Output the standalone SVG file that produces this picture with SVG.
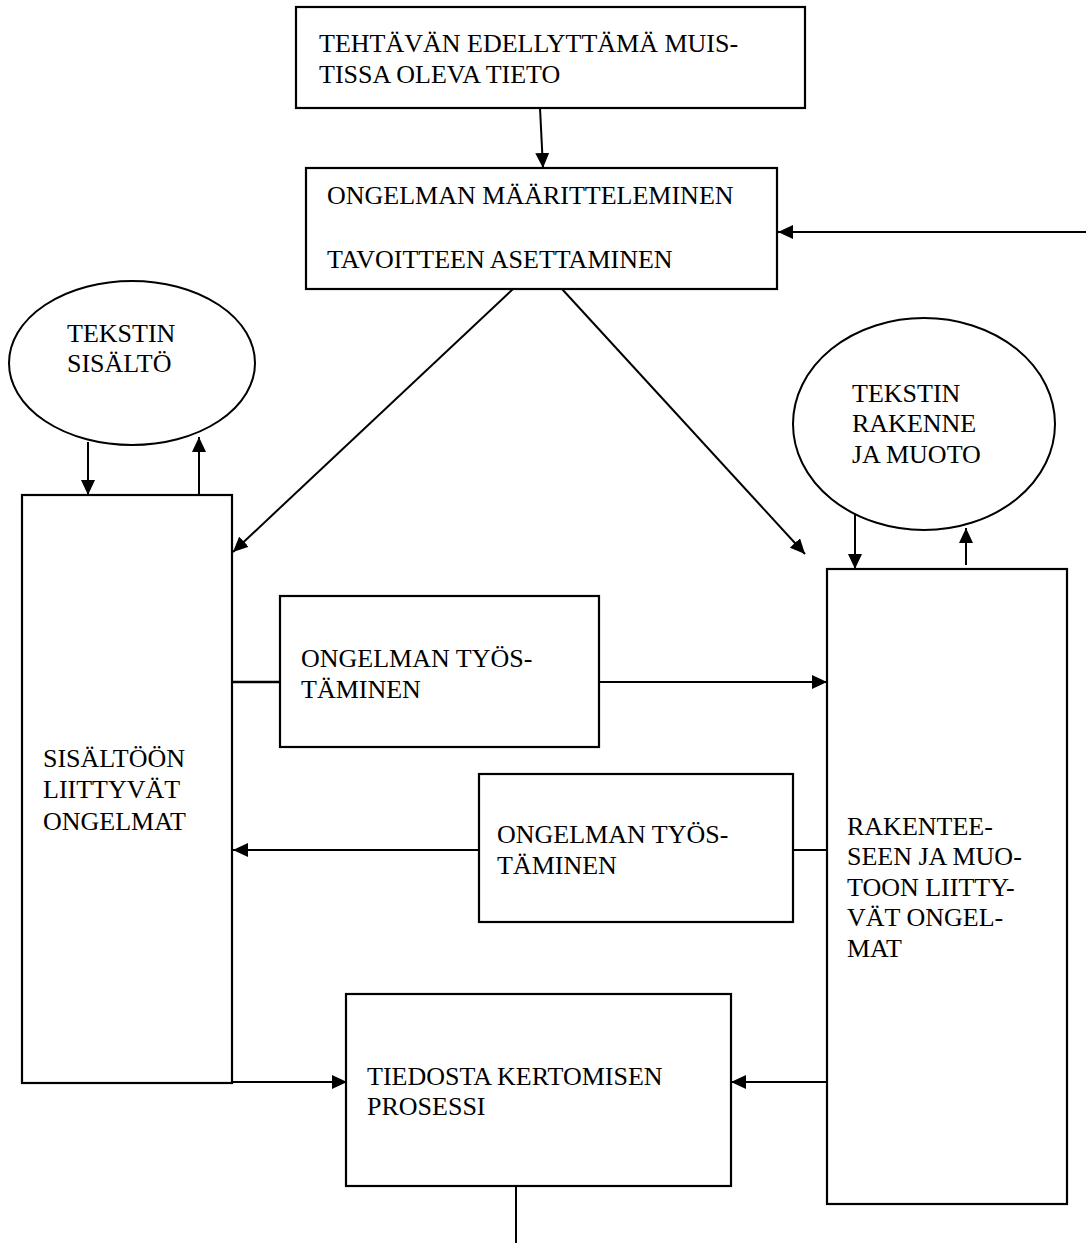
<svg xmlns="http://www.w3.org/2000/svg" width="1086" height="1243" viewBox="0 0 1086 1243">
  <style>
    .box { fill: #fff; stroke: #000; stroke-width: 2.2; }
    .oval { fill: #fff; stroke: #000; stroke-width: 2; }
    .lbl { font-family: "Liberation Serif", "Times New Roman", serif; font-size: 26px; fill: #000; }
    .wire { fill: none; stroke: #000; stroke-width: 2; }
    .arrow { fill: none; stroke: #000; stroke-width: 2; marker-end: url(#head); }
  </style>
  <defs>
    <marker id="head" markerUnits="userSpaceOnUse" markerWidth="16" markerHeight="14" refX="15" refY="7" orient="auto">
      <path d="M0,0 L15,7 L0,14 z" fill="#000"/>
    </marker>
  </defs>
  <rect width="1086" height="1243" fill="#fff"/>

  <!-- connectors -->
  <g id="connectors">
    <line class="arrow" x1="540" y1="108" x2="543" y2="168"/>
    <line class="arrow" x1="1086" y1="232" x2="778" y2="232"/>
    <line class="arrow" x1="513" y1="289" x2="233" y2="552"/>
    <line class="arrow" x1="562" y1="289" x2="805" y2="554"/>
    <line class="arrow" x1="88" y1="442" x2="88" y2="495"/>
    <line class="arrow" x1="199" y1="500" x2="199" y2="437"/>
    <line class="arrow" x1="855" y1="506" x2="855" y2="569"/>
    <line class="arrow" x1="966" y1="565" x2="966" y2="528"/>
    <line class="wire" x1="232" y1="682" x2="280" y2="682" style="stroke-width:2.6"/>
    <line class="arrow" x1="599" y1="682" x2="827" y2="682"/>
    <line class="arrow" x1="479" y1="850" x2="233" y2="850"/>
    <line class="wire" x1="793" y1="850" x2="827" y2="850"/>
    <line class="arrow" x1="232" y1="1082" x2="347" y2="1082"/>
    <line class="arrow" x1="827" y1="1082" x2="731" y2="1082"/>
    <line class="wire" x1="516" y1="1186" x2="516" y2="1243"/>
  </g>

  <g id="muistitieto">
    <rect class="box" x="296" y="7" width="509" height="101"/>
    <text class="lbl" x="319" y="52">TEHTÄVÄN EDELLYTTÄMÄ MUIS-</text>
    <text class="lbl" x="319" y="83">TISSA OLEVA TIETO</text>
  </g>

  <g id="maarittely">
    <rect class="box" x="306" y="168" width="471" height="121"/>
    <text class="lbl" x="327" y="204">ONGELMAN MÄÄRITTELEMINEN</text>
    <text class="lbl" x="327" y="268">TAVOITTEEN ASETTAMINEN</text>
  </g>

  <g id="sisalto-ovaali">
    <ellipse class="oval" cx="132" cy="363" rx="123" ry="82"/>
    <text class="lbl" x="67" y="342">TEKSTIN</text>
    <text class="lbl" x="67" y="372">SISÄLTÖ</text>
  </g>

  <g id="rakenne-ovaali">
    <ellipse class="oval" cx="924" cy="424" rx="131" ry="106"/>
    <text class="lbl" x="852" y="402">TEKSTIN</text>
    <text class="lbl" x="852" y="432">RAKENNE</text>
    <text class="lbl" x="852" y="463">JA MUOTO</text>
  </g>

  <g id="sisalto-ongelmat">
    <rect class="box" x="22" y="495" width="210" height="588"/>
    <text class="lbl" x="43" y="767">SISÄLTÖÖN</text>
    <text class="lbl" x="43" y="798">LIITTYVÄT</text>
    <text class="lbl" x="43" y="830">ONGELMAT</text>
  </g>

  <g id="rakenne-ongelmat">
    <rect class="box" x="827" y="569" width="240" height="635"/>
    <text class="lbl" x="847" y="835">RAKENTEE-</text>
    <text class="lbl" x="847" y="865">SEEN JA MUO-</text>
    <text class="lbl" x="847" y="896">TOON LIITTY-</text>
    <text class="lbl" x="847" y="926">VÄT ONGEL-</text>
    <text class="lbl" x="847" y="957">MAT</text>
  </g>

  <g id="tyostaminen-1">
    <rect class="box" x="280" y="596" width="319" height="151"/>
    <text class="lbl" x="301" y="667">ONGELMAN TYÖS-</text>
    <text class="lbl" x="301" y="698">TÄMINEN</text>
  </g>

  <g id="tyostaminen-2">
    <rect class="box" x="479" y="774" width="314" height="148"/>
    <text class="lbl" x="497" y="843">ONGELMAN TYÖS-</text>
    <text class="lbl" x="497" y="874">TÄMINEN</text>
  </g>

  <g id="kertomisprosessi">
    <rect class="box" x="346" y="994" width="385" height="192"/>
    <text class="lbl" x="367" y="1085">TIEDOSTA KERTOMISEN</text>
    <text class="lbl" x="367" y="1115">PROSESSI</text>
  </g>
</svg>
